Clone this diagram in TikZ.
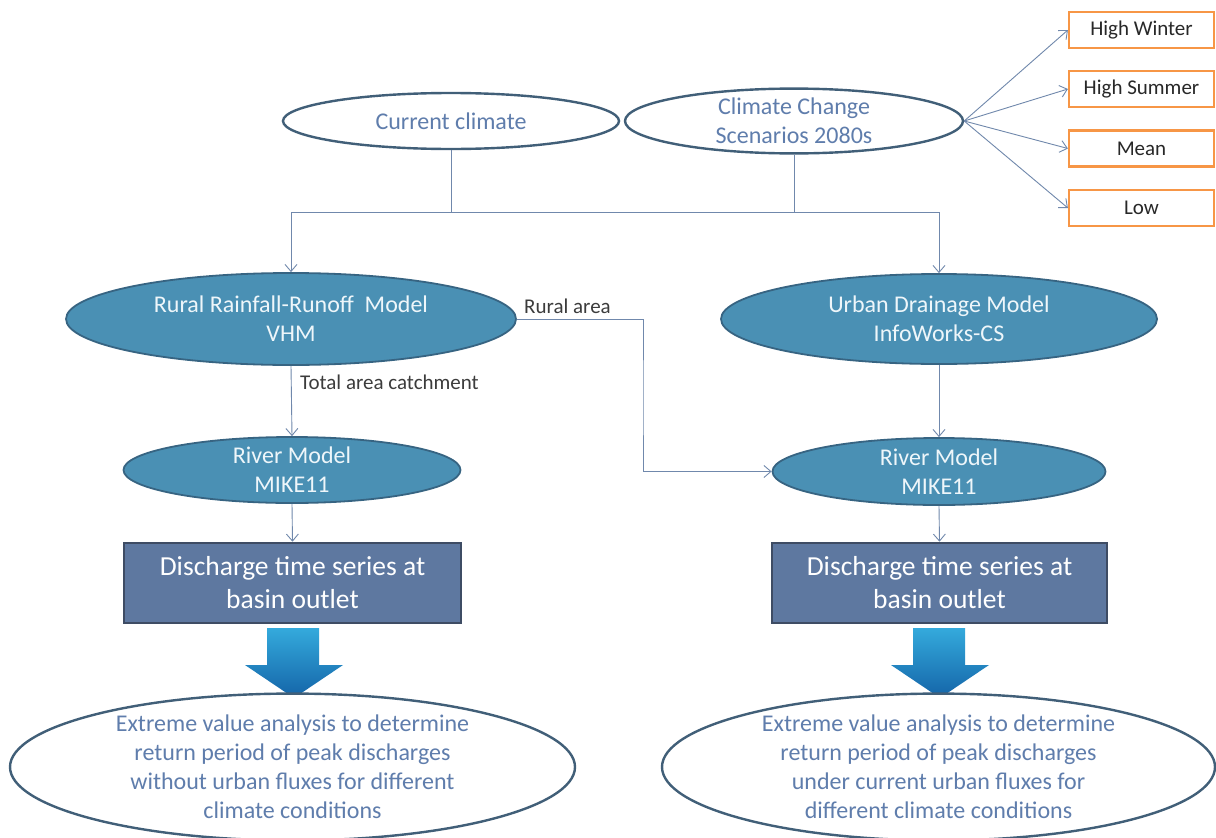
\documentclass[tikz,border=0pt]{standalone}
\usepackage{fontspec}
\setmainfont{Carlito}
\usetikzlibrary{shapes.geometric,arrows.meta}
\definecolor{ellborder}{RGB}{65,95,120}
\definecolor{toptext}{RGB}{95,125,172}
\definecolor{bluefill}{RGB}{74,144,180}
\definecolor{blueborder}{RGB}{55,100,130}
\definecolor{bluetext}{RGB}{238,246,250}
\definecolor{rectfill}{RGB}{94,120,160}
\definecolor{rectborder}{RGB}{62,76,100}
\definecolor{conn}{RGB}{112,136,172}
\definecolor{orangeb}{RGB}{247,150,70}
\definecolor{boxtext}{RGB}{40,40,40}
\definecolor{labtext}{RGB}{60,60,60}
\definecolor{arrtop}{RGB}{52,170,220}
\definecolor{arrbot}{RGB}{20,100,168}
\tikzset{
  whiteell/.style={ellipse, draw=ellborder, line width=2.4pt, fill=white, inner sep=0pt, text=toptext, align=center, font=\fontsize{24}{29}\selectfont},
  blueell/.style={ellipse, draw=blueborder, line width=1.8pt, fill=bluefill, inner sep=0pt, text=bluetext, align=center, font=\fontsize{24}{29}\selectfont},
  disbox/.style={rectangle, draw=rectborder, line width=2.6pt, fill=rectfill, inner sep=0pt, text=white, align=center, font=\fontsize{27.5}{33}\selectfont},
  scenbox/.style={rectangle, draw=orangeb, line width=2.2pt, fill=white, inner sep=0pt, minimum width=145pt, minimum height=36pt, text=boxtext, font=\fontsize{21}{24}\selectfont},
  conline/.style={draw=conn, line width=0.9pt},
  conarrow/.style={conline, -{Straight Barb[length=7pt,width=12pt]}},
  lab/.style={text=labtext, font=\fontsize{21}{24}\selectfont, inner sep=0pt},
  blockarrow/.style={top color=arrtop, bottom color=arrbot, draw=none}
}
\begin{document}
\begin{tikzpicture}[x=1pt,y=-1pt]
\useasboundingbox (0,0) rectangle (1216,838);
\fill[white] (0,0) rectangle (1216,838);

% top ellipses
\node[whiteell, minimum width=336pt, minimum height=56pt] (cur) at (451,121) {Current climate};
\node[whiteell, minimum width=338pt, minimum height=57pt] (ccs) at (794,121) {Climate Change\\Scenarios 2080s};

% scenario boxes
\node[scenbox] (hw) at (1141.5,30) {High Winter};
\node[scenbox] (hs) at (1141.5,89) {High Summer};
\node[scenbox] (mn) at (1141.5,148.5) {Mean};
\node[scenbox] (lw) at (1141.5,208) {Low};

\foreach \b in {hw,hs,mn,lw} \draw[conarrow] (ccs.east) -- (\b.west);

% models
\node[blueell, minimum width=450pt, minimum height=92pt] (rural) at (291,319) {Rural Rainfall-Runoff\ \ Model\\VHM};
\node[blueell, minimum width=436pt, minimum height=90pt] (urban) at (939,319) {Urban Drainage\ Model\\InfoWorks-CS};
\node[blueell, minimum width=337pt, minimum height=66pt] (river1) at (292,470) {River Model\\MIKE11};
\node[blueell, minimum width=333pt, minimum height=67pt] (river2) at (939,471.5) {River Model\\MIKE11};

% junction coordinates
\coordinate (jl) at (291,212);
\coordinate (jr) at (939,212);
\coordinate (ra) at (643,400);

\draw[conline] (cur.south) -- (cur.south |- jl);
\draw[conline] (ccs.south) -- (ccs.south |- jl);
\draw[conline] (jl) -- (jr);
\draw[conarrow] (jl) -- (rural.north);
\draw[conarrow] (jr) -- (urban.north);

\draw[conarrow] (rural.south) -- (river1.north);
\draw[conarrow] (urban.south) -- (river2.north);
\draw[conarrow] (rural.east) -| (ra) |- (river2.west);

\node[lab, anchor=west] (rurallab) at (524,306) {Rural area};
\node[lab, anchor=west] (totlab) at (300,382) {Total area catchment};

% discharge boxes
\node[disbox, minimum width=337pt, minimum height=80pt] (dis1) at (292.5,583) {Discharge time series at\\basin outlet};
\node[disbox, minimum width=335pt, minimum height=80pt] (dis2) at (939.5,583) {Discharge time series at\\basin outlet};
\draw[conarrow] (river1.south) -- (dis1.north);
\draw[conarrow] (river2.south) -- (dis2.north);

% block arrows
\path[blockarrow] (267,628) -- (319,628) -- (319,665) -- (343,665) -- (294,698) -- (245,665) -- (267,665) -- cycle;
\path[blockarrow] (913,628) -- (965,628) -- (965,665) -- (989,665) -- (940,698) -- (891,665) -- (913,665) -- cycle;

% bottom ellipses
\node[whiteell, minimum width=565pt, minimum height=134pt] (ev1) at (292.5,767) {Extreme value analysis to determine\\return period of peak discharges\\without urban fluxes for different\\climate conditions};
\node[whiteell, minimum width=553pt, minimum height=134pt] (ev2) at (938.5,767) {Extreme value analysis to determine\\return period of peak discharges\\under current urban fluxes for\\different climate conditions};
\end{tikzpicture}
\end{document}
